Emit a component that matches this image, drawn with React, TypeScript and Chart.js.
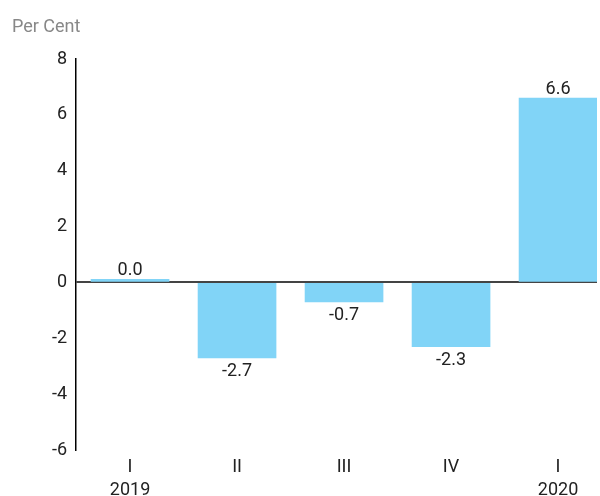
import React, { useEffect, useRef } from "react";
import { Chart, registerables } from "chart.js";
Chart.register(...registerables);

const quarters: string[][] = [["I", "2019"], ["II"], ["III"], ["IV"], ["I", "2020"]];
const values: number[] = [0.04, -2.7, -0.7, -2.3, 6.6];
const yMin = -6;
const yMax = 8;
const yStep = 2;

const FONT = "Roboto";

export default function App() {
  const ref = useRef<HTMLCanvasElement>(null);
  useEffect(() => {
    document.body.style.margin = "0";
    const labelPlugin = {
      id: "barLabels",
      afterDatasetsDraw(chart: any) {
        const ctx = chart.ctx;
        const meta = chart.getDatasetMeta(0);
        ctx.save();
        ctx.font = `18px ${FONT}`;
        ctx.fillStyle = "#222";
        ctx.textAlign = "center";
        ctx.textBaseline = "alphabetic";
        meta.data.forEach((bar: any, i: number) => {
          const v = values[i];
          const txt = v.toFixed(1);
          if (v >= 0) ctx.fillText(txt, bar.x, bar.y - 4);
          else ctx.fillText(txt, bar.x, bar.y + 18);
        });
        ctx.restore();
      },
    };
    const chart = new Chart(ref.current!, {
      type: "bar",
      data: {
        datasets: [
          {
            data: values.map((v, i) => ({ x: i, y: v })),
            backgroundColor: "#81d4f7",
            barThickness: 78,
            minBarLength: 3,
          },
        ],
      },
      options: {
        responsive: false,
        animation: false,
        layout: { padding: { left: 12, right: 3, top: 0, bottom: 0 } },
        plugins: {
          legend: { display: false },
          tooltip: { enabled: false },
          title: {
            display: true,
            text: "Per Cent",
            align: "start",
            color: "#888",
            font: { family: FONT, size: 18, weight: "normal" },
            padding: { top: 17, bottom: 20.4 },
          },
        },
        scales: {
          x: {
            type: "linear",
            offset: false,
            min: -0.505,
            max: 4.364,
            grid: { display: false },
            border: { display: false },
            afterBuildTicks: (s: any) => {
              s.ticks = quarters.map((_, i) => ({ value: i }));
            },
            afterFit: (s: any) => {
              s.height = 46;
            },
            ticks: {
              autoSkip: false,
              maxRotation: 0,
              padding: -2,
              color: "#222",
              font: { family: FONT, size: 18, lineHeight: 1.28 },
              callback: (v: any) => quarters[Math.round(Number(v))] ?? "",
            },
          },
          y: {
            min: yMin,
            max: yMax,
            z: 1,
            afterFit: (s: any) => {
              s.width = 64;
            },
            ticks: {
              stepSize: yStep,
              padding: 9,
              color: "#222",
              font: { family: FONT, size: 18 },
            },
            grid: {
              drawTicks: false,
              lineWidth: 2,
              color: (c: any) => (c.tick && c.tick.value === 0 ? "#444" : "rgba(0,0,0,0)"),
            },
            border: { display: true, color: "#000", width: 1.5 },
          },
        },
      },
      plugins: [labelPlugin],
    });
    return () => chart.destroy();
  }, []);
  return <canvas ref={ref} width={600} height={496} style={{ display: "block" }} />;
}
